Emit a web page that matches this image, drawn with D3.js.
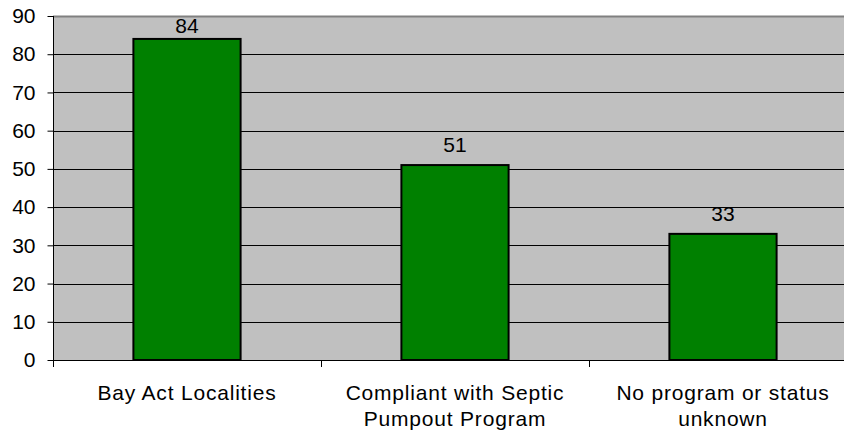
<!DOCTYPE html>
<html>
<head>
<meta charset="utf-8">
<script src="https://cdn.jsdelivr.net/npm/d3@7"></script>
<style>
  html, body { margin: 0; padding: 0; background: #fff; }
  svg { display: block; font-family: "Liberation Sans", Arial, sans-serif; }
</style>
</head>
<body>
<div id="chart"></div>
<script>
// Localities and septic pumpout program status
const categories = [
  ["Bay Act Localities"],
  ["Compliant with Septic", "Pumpout Program"],
  ["No program or status", "unknown"]
];
const values = [84, 51, 33];
const yTicks = [0, 10, 20, 30, 40, 50, 60, 70, 80, 90];

const width = 844, height = 434;
const margin = { top: 16, left: 53, bottom: 74 };
const plotRight = 857; // plot area runs slightly past the page edge
const plotBottom = height - margin.bottom;

const svg = d3.select("#chart").append("svg")
  .attr("width", width).attr("height", height);

const x = d3.scaleBand()
  .domain(d3.range(values.length))
  .range([margin.left, plotRight])
  .paddingInner(0.6).paddingOuter(0.3);

const y = d3.scaleLinear().domain([0, 90]).range([plotBottom, margin.top]);

// plot background
svg.append("rect")
  .attr("x", margin.left).attr("y", margin.top)
  .attr("width", plotRight - margin.left)
  .attr("height", plotBottom - margin.top)
  .attr("fill", "#c0c0c0");

// horizontal gridlines
svg.append("g").selectAll("line")
  .data(yTicks.filter(d => d > 0 && d < 90))
  .join("line")
  .attr("x1", margin.left).attr("x2", plotRight)
  .attr("y1", d => Math.round(y(d)) + 0.5).attr("y2", d => Math.round(y(d)) + 0.5)
  .attr("stroke", "#000").attr("stroke-width", 1);

// top border
svg.append("line")
  .attr("x1", margin.left).attr("x2", plotRight)
  .attr("y1", margin.top + 0.5).attr("y2", margin.top + 0.5)
  .attr("stroke", "#808080").attr("stroke-width", 2);

// bars
svg.append("g").selectAll("rect")
  .data(values)
  .join("rect")
  .attr("x", (d, i) => x(i))
  .attr("y", d => y(d))
  .attr("width", x.bandwidth())
  .attr("height", d => plotBottom - y(d))
  .attr("fill", "#008000")
  .attr("stroke", "#000")
  .attr("stroke-width", 2);

// value labels, kept inside the top of the page
svg.append("g").selectAll("text")
  .data(values)
  .join("text")
  .attr("x", (d, i) => x(i) + x.bandwidth() / 2)
  .attr("y", d => Math.max(y(d) - 13, 33))
  .attr("text-anchor", "middle")
  .attr("font-size", 21)
  .attr("fill", "#000")
  .text(d => d);

// y axis
const yAxis = d3.axisLeft(y).tickValues(yTicks).tickSize(6).tickPadding(12);
const gy = svg.append("g")
  .attr("transform", `translate(${margin.left + 0.5},0)`)
  .call(yAxis);
gy.select(".domain").attr("d", `M0,${margin.top}V${plotBottom + 7}`).attr("stroke", "#000");
gy.selectAll(".tick line").attr("stroke", "#000");
gy.selectAll(".tick text")
  .attr("font-size", 21)
  .attr("font-family", "Liberation Sans, Arial, sans-serif")
  .attr("fill", "#000");

// x axis baseline and category separators
svg.append("line")
  .attr("x1", margin.left).attr("x2", plotRight)
  .attr("y1", plotBottom + 0.5).attr("y2", plotBottom + 0.5)
  .attr("stroke", "#000");
svg.append("g").selectAll("line")
  .data(d3.range(1, values.length))
  .join("line")
  .attr("x1", i => Math.round(margin.left + i * (plotRight - margin.left) / values.length) + 0.5)
  .attr("x2", i => Math.round(margin.left + i * (plotRight - margin.left) / values.length) + 0.5)
  .attr("y1", plotBottom).attr("y2", plotBottom + 7)
  .attr("stroke", "#000");

// category labels
const cat = svg.append("g").selectAll("text")
  .data(categories)
  .join("text")
  .attr("text-anchor", "middle")
  .attr("font-size", 21)
  .attr("letter-spacing", 0.8)
  .attr("fill", "#000");
cat.each(function (lines, i) {
  const t = d3.select(this);
  const cx = x(i) + x.bandwidth() / 2;
  lines.forEach((ln, j) => {
    t.append("tspan").attr("x", cx).attr("y", 400 + j * 26).text(ln);
  });
});
</script>
</body>
</html>
